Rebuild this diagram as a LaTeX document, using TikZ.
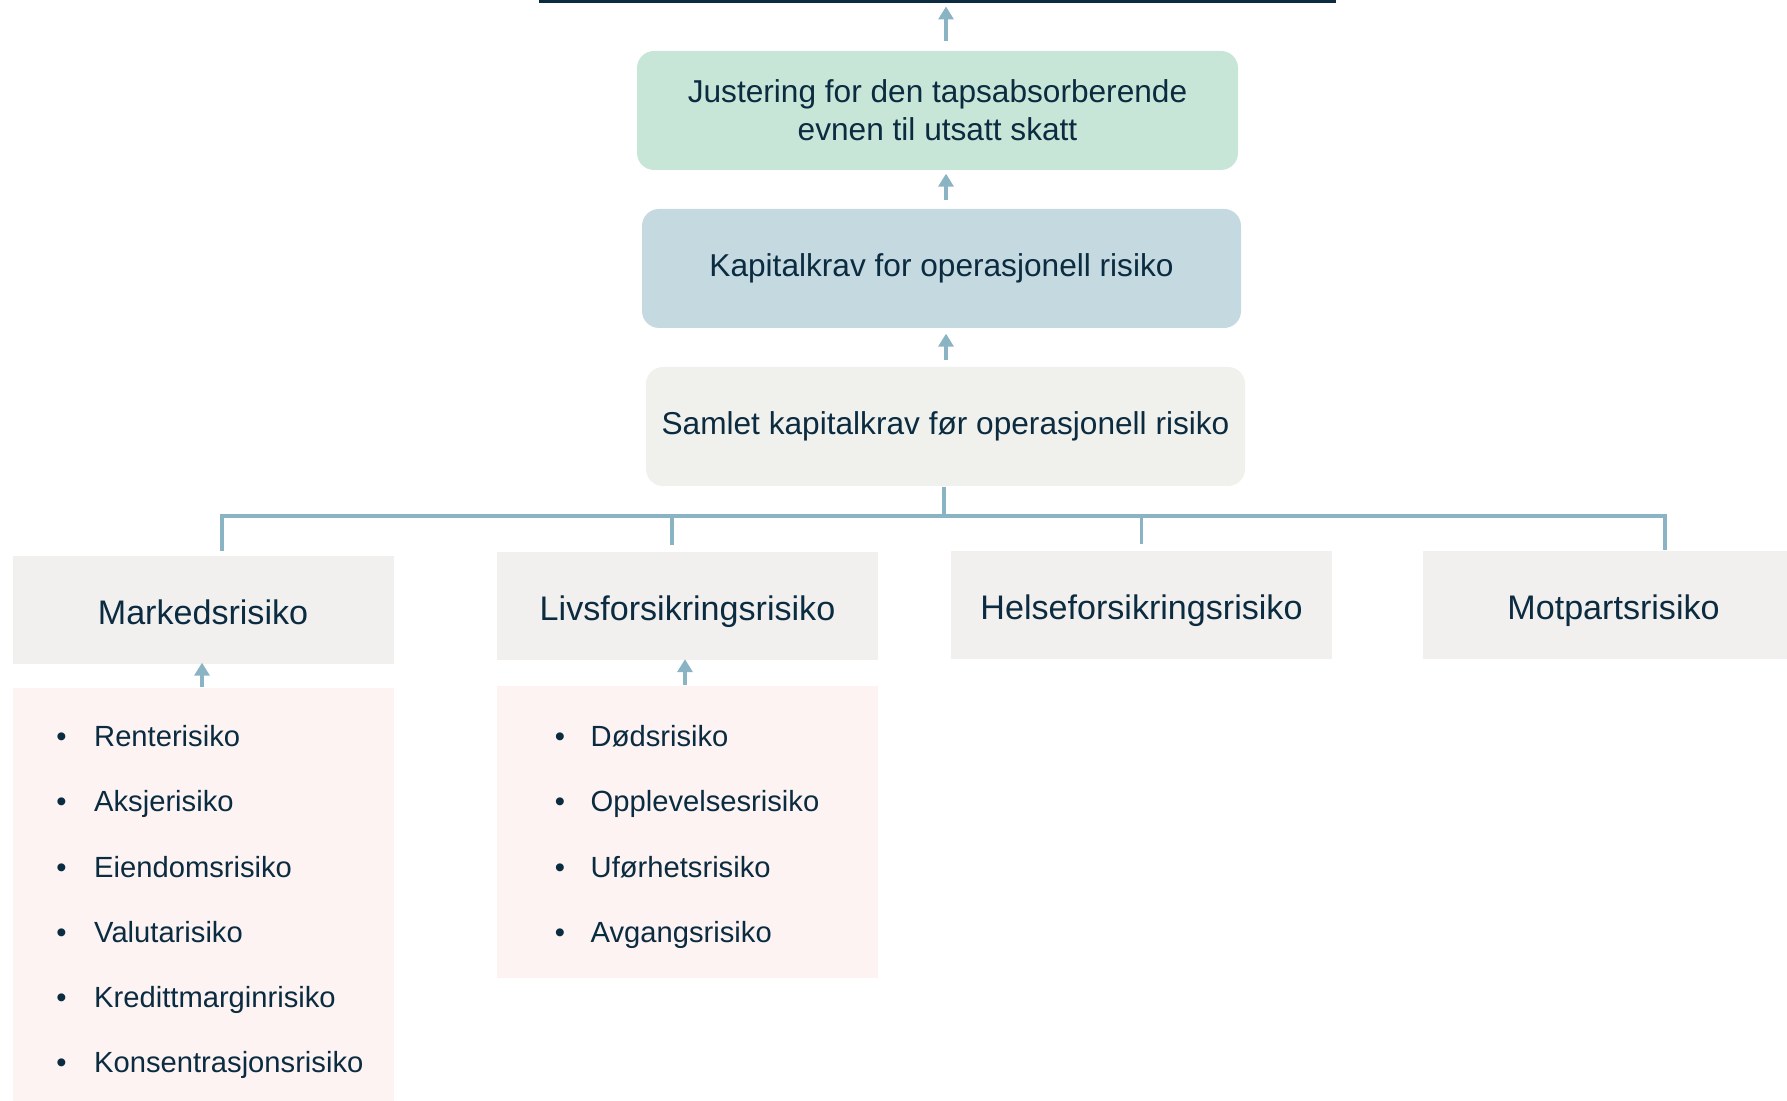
\documentclass[tikz,border=0pt]{standalone}
\usepackage{fontspec}
\setmainfont{Liberation Sans}
\usetikzlibrary{arrows.meta,positioning,calc}
\definecolor{navy}{HTML}{0B2B40}
\definecolor{linec}{HTML}{8AB4C4}
\definecolor{justgreen}{HTML}{C8E6D8}
\definecolor{kapblue}{HTML}{C4D9E0}
\definecolor{samgray}{HTML}{F0F0EC}
\definecolor{catgray}{HTML}{F2F0EF}
\definecolor{subpink}{HTML}{FCF3F2}
\tikzset{
  box/.style={rounded corners=0.17cm, minimum width=5.99cm, minimum height=1.19cm,
    text=navy, font=\fontsize{9}{10.9}\selectfont, align=center},
  cat/.style={fill=catgray, minimum width=3.81cm, minimum height=1.08cm,
    text=navy, font=\fontsize{9.7}{11}\selectfont, text height=8pt, text depth=0pt},
  sub/.style={fill=subpink, minimum width=3.81cm},
  item/.style={text=navy, font=\fontsize{8.3}{10}\selectfont, inner sep=0pt},
  arr/.style={draw=linec, line width=1pt, -{Triangle[width=0.15cm,length=0.13cm]}},
  tree/.style={draw=linec, line width=1pt},
}
\begin{document}
\begin{tikzpicture}
\useasboundingbox (0,0) rectangle (17.87,11.01);
% top three boxes
\node[box,fill=justgreen,minimum width=6.01cm] (just) at (9.375,9.905) {Justering for den tapsabsorberende\\evnen til utsatt skatt};
\node[box,fill=kapblue] (kap) at (9.415,8.325) {Kapitalkrav for operasjonell risiko};
\node[box,fill=samgray] (samlet) at (9.455,6.745) {Samlet kapitalkrav før operasjonell risiko};
\coordinate (tl) at (5.39,10.995);
\coordinate (tr) at (13.36,10.995);
\coordinate (ax) at (9.46,10.995);
\draw[navy,line width=0.03cm] (tl) -- (tr);
\draw[arr,shorten <=0.09cm,shorten >=0.05cm] (just.north -| ax) -- (ax);
\draw[arr,shorten <=0.08cm,shorten >=0.03cm] (kap.north -| ax) -- (just.south -| ax);
\draw[arr,shorten <=0.06cm,shorten >=0.05cm] (samlet.north -| ax) -- (kap.south -| ax);
% risk modules
\node[cat] (mark) at (2.03,4.91) {Markedsrisiko};
\node[cat] (livs) at (6.875,4.945) {Livsforsikringsrisiko};
\node[cat] (helse) at (11.415,4.96) {Helseforsikringsrisiko};
\node[cat] (mot) at (16.135,4.96) {Motpartsrisiko};
\coordinate (bl) at (2.22,5.85);
\coordinate (br) at (16.65,5.85);
\draw[tree] ([xshift=-0.015cm]samlet.south) -- ([xshift=-0.015cm]samlet.south |- bl);
\draw[tree] ([xshift=0.19cm,yshift=0.04cm]mark.north) -- (bl) -- (br) -- ([xshift=0.515cm]mot.north);
\draw[tree,shorten <=0.07cm] ([xshift=-0.155cm]livs.north) -- ([xshift=-0.155cm]livs.north |- bl);
\draw[tree,shorten <=0.06cm] (helse.north) -- (helse.north |- bl);
% sub-modules
\node[sub,minimum height=4.18cm] (marksub) at (2.03,2.04) {};
\node[sub,minimum height=2.92cm] (livssub) at (6.875,2.69) {};
\draw[arr,shorten >=-0.02cm] ([xshift=-0.01cm]marksub.north) -- ([xshift=-0.01cm]mark.south);
\draw[arr,shorten >=-0.02cm] ([xshift=-0.025cm]livssub.north) -- ([xshift=-0.025cm]livs.south);
\foreach \t [count=\i] in {Renterisiko,Aksjerisiko,Eiendomsrisiko,Valutarisiko,Kredittmarginrisiko,Konsentrasjonsrisiko}{
  \node[item,anchor=base] (mb\i) at (0.615,{4.195-0.652*\i}) {•};
  \node[item,anchor=base west] (m\i) at (0.935,{4.195-0.652*\i}) {\t};
}
\foreach \t [count=\i] in {Dødsrisiko,Opplevelsesrisiko,Uførhetsrisiko,Avgangsrisiko}{
  \node[item,anchor=base] (lb\i) at (5.60,{4.195-0.652*\i}) {•};
  \node[item,anchor=base west] (l\i) at (5.90,{4.195-0.652*\i}) {\t};
}
\end{tikzpicture}
\end{document}
